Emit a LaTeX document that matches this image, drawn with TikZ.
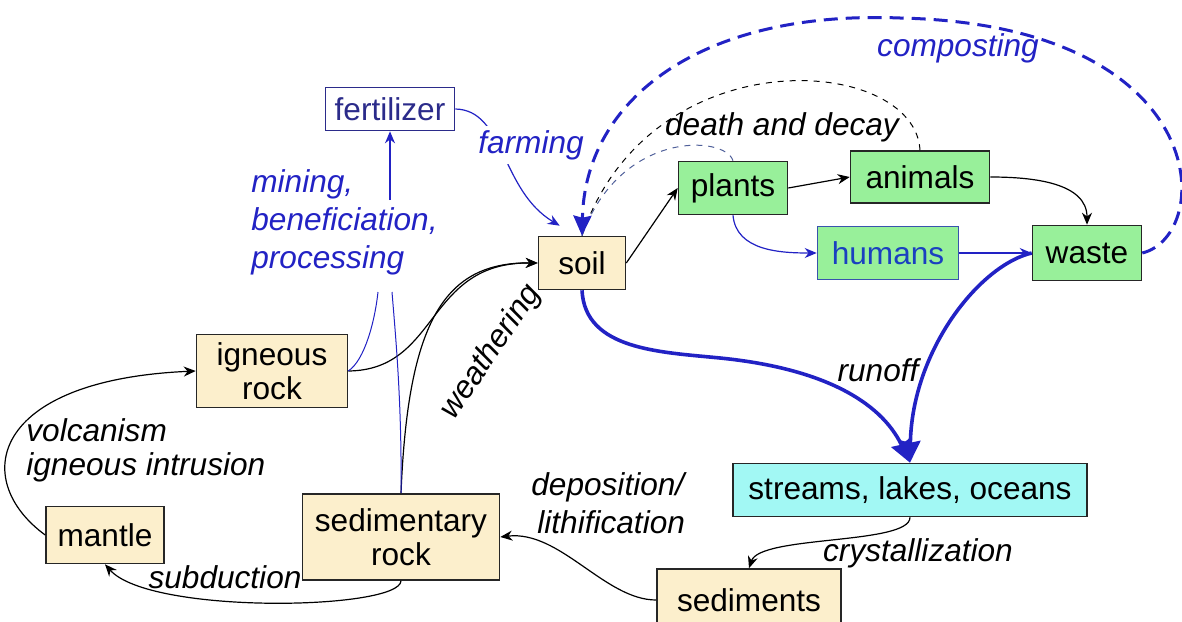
\documentclass[tikz,border=0pt]{standalone}
\usepackage{fontspec}
\setmainfont{Liberation Sans}
\usetikzlibrary{arrows.meta,positioning}
\definecolor{rockfill}{HTML}{FCEFCC}
\definecolor{lifefill}{HTML}{98F09A}
\definecolor{waterfill}{HTML}{A2F8F4}
\definecolor{flowblue}{HTML}{2222C4}
\definecolor{navy}{HTML}{2B2B8A}
\definecolor{humanblue}{HTML}{1A40C0}
\definecolor{dashgray}{HTML}{50609A}
\tikzset{
    %Define standard arrow tip
    >={Stealth[length=6pt,width=5pt]},
    %Define style for boxes
    box/.style={
           rectangle,
           draw=black!85, line width=0.8pt,
           inner sep=0pt,
           font=\fontsize{15.8}{17}\selectfont,
           align=center},
    rock/.style={box, fill=rockfill},
    life/.style={box, fill=lifefill},
    water/.style={box, fill=waterfill},
    % Define style for labels
    lbl/.style={
           font=\fontsize{15.8}{19}\selectfont\itshape,
           inner sep=0pt},
    bluelbl/.style={lbl, text=flowblue},
    % Define arrow styles
    pil/.style={->, line width=0.6pt},
    bluepil/.style={->, line width=0.6pt, draw=flowblue},
    runpil/.style={-{Stealth[length=11pt,width=10pt,inset=1pt]}, line width=1.8pt, draw=flowblue},
    comppil/.style={-{Stealth[length=10pt,width=9pt,inset=1pt]}, line width=1.5pt, draw=flowblue, dash pattern=on 7pt off 4pt}
}

\begin{document}
\begin{tikzpicture}[x=0.5pt,y=-0.5pt]
\useasboundingbox (0,0) rectangle (1182,621);
 %nodes
\node[box, draw=navy, text=navy, minimum width=64.5pt, minimum height=21.5pt] (fert) at (390,109) {fertilizer};
\node[rock, minimum width=43.5pt, minimum height=26.5pt] (soil) at (582,263) {soil};
\node[life, minimum width=54.5pt, minimum height=26.5pt] (plants) at (733,188) {plants};
\node[life, minimum width=69.5pt, minimum height=26pt] (animals) at (920,177) {animals};
\node[life, draw=humanblue!70!gray, text=humanblue, minimum width=70.5pt, minimum height=26.5pt] (humans) at (888,253) {humans};
\node[life, minimum width=54.5pt, minimum height=27.5pt] (waste) at (1087,253) {waste};
\node[rock, minimum width=75.5pt, minimum height=36.5pt] (igneous) at (272,371) {igneous\\rock};
\node[rock, minimum width=59pt, minimum height=28.5pt] (mantle) at (105,535) {mantle};
\node[rock, minimum width=98.5pt, minimum height=43pt] (sed) at (401,537) {sedimentary\\rock};
\node[water, minimum width=177pt, minimum height=26.5pt] (streams) at (910,490) {streams, lakes, oceans};
\node[rock, minimum width=92pt, minimum height=31pt] (sediments) at (749,600) {sediments};
\coordinate (mine) at (390,200);
\coordinate (mineA) at (378,292);
\coordinate (mineB) at (392,292);

 %life cycle
\draw[pil] (soil.east) -- (plants.west);
\draw[pil] (plants.east) -- (animals.west);
\draw[pil] (animals.east) to[out=0,in=90] (waste.north);
\draw[bluepil] (plants.south) to[out=-85,in=180] (humans.west);
\draw[bluepil] (humans.east) -- (waste.west);
\draw[line width=0.5pt, dashed] (animals.north) .. controls (915,55) and (650,35) .. (soil.north);
\draw[line width=0.5pt, dashed, draw=dashgray] (plants.north) .. controls (725,135) and (620,130) .. (soil.north);
\draw[comppil] (waste.east) .. controls (1215,235) and (1215,25) .. (900,18)
   .. controls (700,10) and (585,100) .. (soil.north);
\draw[runpil] (soil.south) .. controls (585,350) and (660,352) .. (720,358)
   .. controls (820,368) and (880,400) .. (streams.north);
\draw[runpil] (waste.west) .. controls (980,265) and (912,350) .. (streams.north);

 %rock cycle
\draw[bluepil] (fert.east) .. controls (505,110) and (500,190) .. ([xshift=11pt,yshift=5pt]soil.north west);
\draw[pil] (igneous.east) .. controls (440,370) and (425,262) .. (soil.west);
\draw[pil] (sed.north) .. controls (408,320) and (445,262) .. (soil.west);
\draw[line width=0.5pt, flowblue] (igneous.east) .. controls (365,360) and (375,320) .. (mineA);
\draw[line width=0.5pt, flowblue] (sed.north) .. controls (402,400) and (395,330) .. (mineB);
\draw[bluepil, line width=0.8pt] (mine) -- (fert.south);
\draw[pil] (mantle.west) .. controls (-30,480) and (-10,380) .. (igneous.west);
\draw[pil] (sed.south) .. controls (400,610) and (150,615) .. (mantle.south);
\draw[pil] (sediments.west) .. controls (605,600) and (560,530) .. (sed.east);
\draw[pil] (streams.south) .. controls (910,545) and (760,535) .. (sediments.north);

 %labels
\node[bluelbl] (lcomp) at (958,48) {composting};
\node[lbl] (ldeath) at (782,127) {death and decay};
\node[bluelbl, fill=white, inner sep=2pt] (lfarm) at (531,145) {farming};
\node[bluelbl, align=left, anchor=west] (lmine) at (251,222) {mining,\\beneficiation,\\processing};
\node[lbl, rotate=56] (lweath) at (491,352) {weathering};
\node[lbl] (lrun) at (878,370) {runoff};
\node[lbl, align=left, anchor=west, font=\fontsize{15.8}{17}\selectfont\itshape] (lvolc) at (26,450) {volcanism\\igneous intrusion};
\node[lbl, align=left, anchor=west] (ldepo) at (531,503) {deposition/\\\hspace{3pt}lithification};
\node[lbl] (lsub) at (225,577) {subduction};
\node[lbl] (lcryst) at (918,553) {crystallization};
\end{tikzpicture}
\end{document}
